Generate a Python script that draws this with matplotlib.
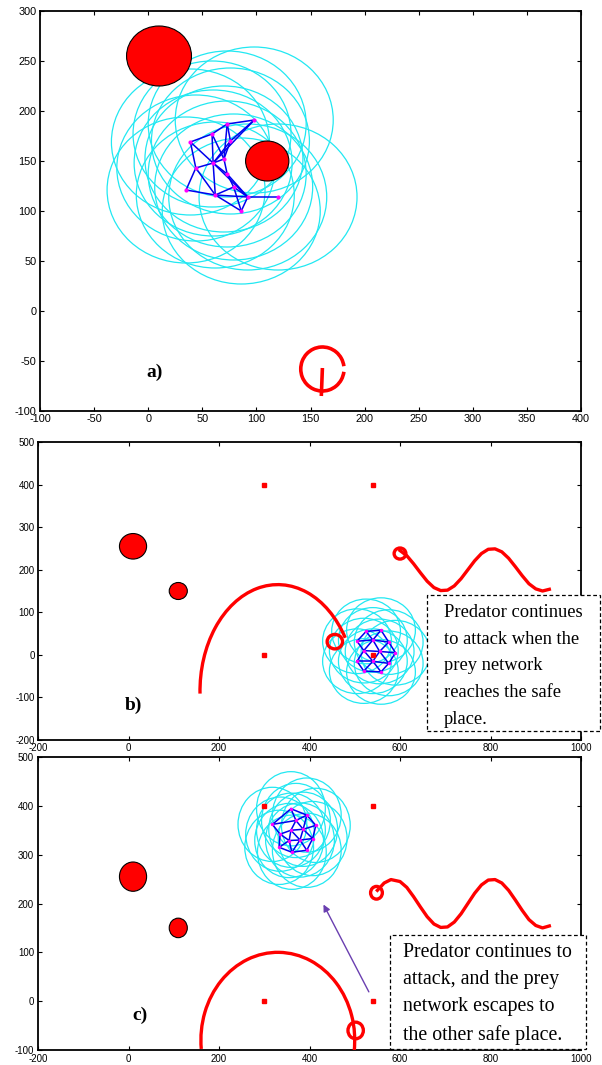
import matplotlib.pyplot as plt
from matplotlib.patches import Circle, Arc, Rectangle

plt.rcParams['font.family'] = ['Liberation Sans', 'DejaVu Sans']
plt.rcParams['axes.unicode_minus'] = False

W, H = 602, 1065

# obstacles (shared by all panels)
obst_x = [10, 110]
obst_y = [255, 150]
obst_r = [30, 20]

# safe places (red squares, panels b and c)
safe_x = [300, 540, 300, 540]
safe_y = [400, 400, 0, 0]

# panel a: prey network
a_nodes_x = [98, 73, 59, 39, 76, 70, 60, 44, 73, 79, 35, 62, 92, 120, 86]
a_nodes_y = [191, 187, 177, 169, 170, 152, 148, 143, 137, 124, 121, 116, 114, 114, 100]
a_edges = [(0, 1), (0, 4), (0, 6), (1, 2), (1, 4), (1, 5), (2, 3), (2, 5), (2, 6), (3, 7),
           (3, 6), (4, 5), (4, 6), (5, 6), (5, 8), (6, 7), (6, 8), (6, 11), (7, 10), (7, 11),
           (8, 9), (8, 12), (9, 11), (9, 12), (9, 14), (10, 11), (11, 12), (11, 14), (12, 13),
           (12, 14), (6, 12)]
a_sense_r = 73

# panel b: prey network at the first safe place
b_nodes_x = [525, 558, 505, 540, 575, 520, 555, 590, 505, 540, 575, 520, 558]
b_nodes_y = [55, 58, 32, 35, 30, 10, 8, 5, -15, -15, -20, -38, -40]
b_edges = [(0, 1), (0, 2), (0, 3), (1, 3), (1, 4), (2, 3), (3, 4), (2, 5), (3, 5), (3, 6),
           (4, 6), (4, 7), (5, 6), (6, 7), (5, 8), (5, 9), (6, 9), (6, 10), (7, 10), (8, 9),
           (9, 10), (8, 11), (9, 11), (9, 12), (10, 12), (11, 12)]

# panel c: prey network at the other safe place
c_nodes_x = [359, 394, 414, 318, 335, 359, 370, 386, 407, 355, 379, 333, 361, 394]
c_nodes_y = [394, 381, 360, 362, 342, 350, 370, 352, 333, 329, 330, 315, 305, 309]
c_edges = [(0, 1), (0, 6), (0, 3), (1, 2), (1, 6), (1, 7), (2, 7), (2, 8), (3, 4), (3, 6),
           (4, 5), (5, 6), (5, 7), (6, 7), (7, 8), (4, 9), (5, 9), (5, 10), (7, 10), (8, 10),
           (8, 13), (9, 10), (9, 11), (4, 11), (9, 12), (10, 12), (10, 13), (11, 12), (12, 13)]
bc_sense_r = 76

# predator second path (wave)
wave_x = [550, 565, 580, 600, 615, 630, 645, 660, 675, 690, 705, 720, 735, 750, 765, 780,
          795, 810, 825, 840, 855, 870, 885, 900, 915, 930]
wave_y = [227, 242, 249, 245, 233, 214, 193, 173, 158, 151, 152, 162, 179, 200, 221, 238,
          248, 249, 242, 227, 207, 186, 167, 155, 150, 154]

RED = '#ff0000'
CYAN = '#22e8f2'


def rect(l, t, r, b):
    return [l / W, 1 - b / H, (r - l) / W, (b - t) / H]


def style(ax, xlim, ylim, xstep, ystep, fs, pad=2.5):
    ax.set_xlim(xlim)
    ax.set_ylim(ylim)
    ax.set_xticks(range(xlim[0], xlim[1] + 1, xstep))
    ax.set_yticks(range(ylim[0], ylim[1] + 1, ystep))
    ax.tick_params(direction='in', top=True, right=True, length=3, width=0.8,
                   labelsize=fs, pad=pad)
    for s in ax.spines.values():
        s.set_linewidth(1.3)


def draw_obstacles(ax):
    for x, y, r in zip(obst_x, obst_y, obst_r):
        ax.add_patch(Circle((x, y), r, facecolor=RED, edgecolor='black', lw=0.8, zorder=3))


def draw_network(ax, xs, ys, edges, r, ms=3):
    for x, y in zip(xs, ys):
        ax.add_patch(Circle((x, y), r, fill=False, edgecolor=CYAN, lw=0.9, zorder=2))
    for i, j in edges:
        ax.plot([xs[i], xs[j]], [ys[i], ys[j]], color='#0000ee', lw=1.1, zorder=4)
    ax.plot(xs, ys, '.', color='magenta', ms=ms, zorder=5)


fig = plt.figure(figsize=(W / 100, H / 100), dpi=100)

# ---- a) ----
ax = fig.add_axes(rect(40, 11, 581, 411))
style(ax, (-100, 400), (-100, 300), 50, 50, 7.8)
draw_network(ax, a_nodes_x, a_nodes_y, a_edges, a_sense_r, ms=4)
draw_obstacles(ax)
ax.add_patch(Arc((161, -58), 40, 44, theta1=8, theta2=352, color=RED, lw=2.6, zorder=6))
ax.plot([160, 161], [-85, -57], color=RED, lw=2.6, solid_capstyle='butt', zorder=6)
fig.text(155 / W, 1 - 372 / H, 'a)', fontsize=14, fontweight='bold',
         family='Liberation Serif', va='center', ha='center')

# ---- b) ----
ax = fig.add_axes(rect(38, 442, 581, 740))
style(ax, (-200, 1000), (-200, 500), 200, 100, 7)
draw_network(ax, b_nodes_x, b_nodes_y, b_edges, bc_sense_r)
draw_obstacles(ax)
ax.plot(safe_x, safe_y, 's', color=RED, ms=3.5, zorder=6)
ax.add_patch(Arc((330, -85), 344, 500, theta1=40, theta2=182, color=RED, lw=2.4, zorder=6))
ax.add_patch(Circle((456, 31), 17, fill=False, edgecolor=RED, lw=2.4, zorder=6))
ax.plot(wave_x[3:], wave_y[3:], color=RED, lw=2.4, zorder=6)
ax.add_patch(Circle((600, 238), 13, fill=False, edgecolor=RED, lw=2.4, zorder=6))
fig.text(133 / W, 1 - 705 / H, 'b)', fontsize=14, fontweight='bold',
         family='Liberation Serif', va='center', ha='center')

# ---- c) ----
ax = fig.add_axes(rect(38, 757, 581, 1050))
style(ax, (-200, 1000), (-100, 500), 200, 100, 7, pad=2.8)
draw_network(ax, c_nodes_x, c_nodes_y, c_edges, bc_sense_r)
draw_obstacles(ax)
ax.plot(safe_x, safe_y, 's', color=RED, ms=3.5, zorder=6)
ax.add_patch(Arc((330, -80), 340, 360, theta1=-8, theta2=186, color=RED, lw=2.4, zorder=6))
ax.add_patch(Circle((502, -60), 17, fill=False, edgecolor=RED, lw=2.4, zorder=6))
ax.plot(wave_x, wave_y, color=RED, lw=2.4, zorder=6)
ax.add_patch(Circle((548, 222), 13, fill=False, edgecolor=RED, lw=2.4, zorder=6))
ax.annotate('', xy=(428, 203), xytext=(534, 14),
            arrowprops=dict(arrowstyle='-|>', color='#6a3fb0', lw=1.0,
                            mutation_scale=10), zorder=7)
fig.text(140 / W, 1 - 1015 / H, 'c)', fontsize=14, fontweight='bold',
         family='Liberation Serif', va='center', ha='center')

# ---- text boxes ----
boxes = [
    ((427, 595, 600, 731), 444, 666, 13.3, 1.74,
     'Predator continues\nto attack when the\nprey network\nreaches the safe\nplace.'),
    ((390, 935, 586, 1049), 403, 994, 14.3, 1.58,
     'Predator continues to\nattack, and the prey\nnetwork escapes to\nthe other safe place.'),
]
for (l, t, r, b), tx, ty, fs, ls, txt in boxes:
    fig.patches.append(Rectangle((l / W, 1 - b / H), (r - l) / W, (b - t) / H,
                                 transform=fig.transFigure, facecolor='white',
                                 edgecolor='black', lw=0.9, ls=(0, (3, 2)), zorder=10))
    fig.text(tx / W, 1 - ty / H, txt, fontsize=fs, family='Liberation Serif',
             va='center', ha='left', linespacing=ls, zorder=11,
             transform=fig.transFigure)

fig.savefig('out.png', dpi=100)
